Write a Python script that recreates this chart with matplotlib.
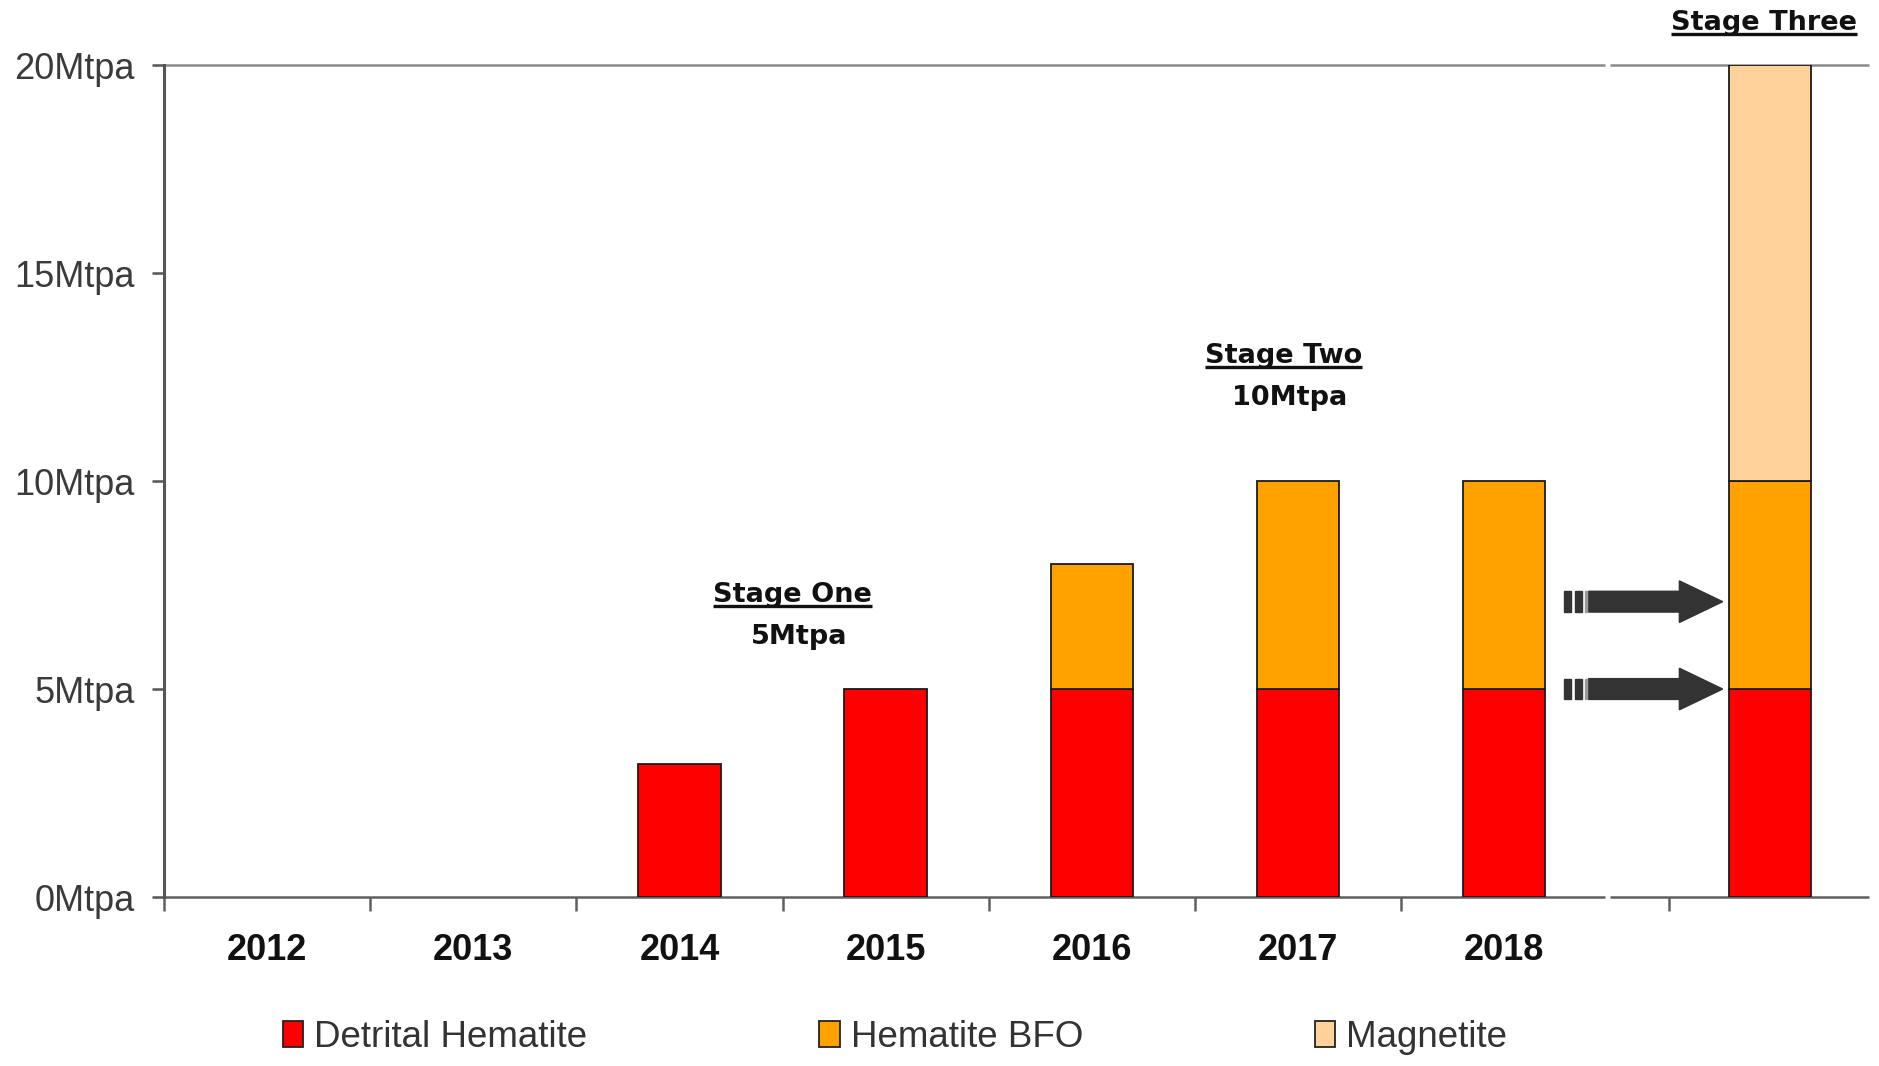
import matplotlib
matplotlib.use("Agg")
import matplotlib.pyplot as plt
import matplotlib.patches as mpatches
import numpy as np

# ---- data ----
categories = ['2012', '2013', '2014', '2015', '2016', '2017', '2018', '']
detrital = [0, 0, 3.2, 5, 5, 5, 5, 5]
bfo = [0, 0, 0, 0, 3, 5, 5, 5]
magnetite = [0, 0, 0, 0, 0, 0, 0, 10]
series_names = ['Detrital Hematite', 'Hematite BFO', 'Magnetite']
series_colors = ['#FF0000', '#FFA200', '#FFD29C']
ytick_vals = [0, 5, 10, 15, 20]
ytick_labels = ['0Mtpa', '5Mtpa', '10Mtpa', '15Mtpa', '20Mtpa']

# ---- layout ----
x_pos = [0, 1, 2, 3, 4, 5, 6, 7.29]
bar_w = 0.4
fig = plt.figure(figsize=(18.79, 10.66), dpi=100)
ax = fig.add_axes([0.0873, 0.1585, 0.9074, 0.7805])
ax.set_xlim(-0.5, 7.77)
ax.set_ylim(0, 20)

edge = '#1a1a1a'
bottoms = np.zeros(len(categories))
for vals, name, col in zip([detrital, bfo, magnetite], series_names, series_colors):
    vals = np.array(vals, dtype=float)
    m = vals > 0
    ax.bar(np.array(x_pos)[m], vals[m], bar_w, bottom=bottoms[m], color=col,
           edgecolor=edge, linewidth=1.3, zorder=3)
    bottoms += vals

# spines
for s in ['right', 'bottom', 'top']:
    ax.spines[s].set_visible(False)
ax.spines['left'].set_color('#555555')
ax.spines['left'].set_linewidth(2.2)
brk = 6.5
for yv, c in [(0, '#606060'), (20, '#8a8a8a')]:
    ax.plot([-0.5, brk - 0.012], [yv, yv], color=c, lw=1.8, clip_on=False, zorder=2,
            solid_capstyle='butt')
    ax.plot([brk + 0.012, 7.77], [yv, yv], color=c, lw=1.8, clip_on=False, zorder=2,
            solid_capstyle='butt')

# y ticks
ax.set_yticks(ytick_vals)
ax.set_yticklabels(ytick_labels, fontfamily='Liberation Sans', fontsize=26, color='#3a3a3a')
ax.tick_params(axis='y', length=9, width=1.8, color='#555555', pad=12)

# x ticks: labels at centers, tick marks at slot boundaries
ax.set_xticks(x_pos[:7])
ax.set_xticklabels(categories[:7], fontfamily='Liberation Sans', fontweight='bold',
                   fontsize=26, color='#111111')
ax.tick_params(axis='x', which='major', length=0, pad=26)
ax.set_xticks([-0.5, 0.5, 1.5, 2.5, 3.5, 4.5, 5.5, 6.8], minor=True)
ax.tick_params(axis='x', which='minor', length=10, width=1.8, color='#606060', direction='out')

# annotations
ann_font = dict(fontfamily='DejaVu Sans', fontweight='bold', fontsize=19.5, color='#111111',
                ha='center', va='center')
stage_titles = ['Stage One', 'Stage Two', 'Stage Three']
stage_caps = ['5Mtpa', '10Mtpa', None]
stage_xy = [(2.55, 7.25), (4.93, 13.0), (7.26, 21.0)]
fig.canvas.draw()
for t, c, (sx, sy) in zip(stage_titles, stage_caps, stage_xy):
    txt = ax.text(sx, sy, t, clip_on=False, **ann_font)
    fig.canvas.draw()
    bb = txt.get_window_extent()
    inv = ax.transData.inverted()
    (x0, y0), (x1, y1) = inv.transform([(bb.x0, bb.y0), (bb.x1, bb.y0)])
    ax.plot([x0, x1], [y0 + 0.06, y0 + 0.06], color='#111111', lw=2.4, clip_on=False,
            solid_capstyle='butt')
    if c:
        ax.text(sx + 0.03, sy - 1.0, c, **ann_font)

# block arrows
arrow_y = [7.1, 5.0]
for ay in arrow_y:
    ax.add_patch(mpatches.FancyArrow(6.41, ay, 0.65, 0, width=0.5, head_width=1.0,
                                     head_length=0.21, length_includes_head=True,
                                     color='#333333', zorder=4))
    ax.add_patch(mpatches.Rectangle((6.29, ay - 0.25), 0.035, 0.5, color='#333333', zorder=4))
    ax.add_patch(mpatches.Rectangle((6.345, ay - 0.25), 0.035, 0.5, color='#333333', zorder=4))
    ax.add_patch(mpatches.Rectangle((6.392, ay - 0.25), 0.012, 0.5, color='#9a9a9a', zorder=4))

# legend
handles = [mpatches.Patch(facecolor=c, edgecolor='#222222', linewidth=1.3) for c in series_colors]
leg = fig.legend(handles, series_names, loc='center left', bbox_to_anchor=(0.133, 0.027),
                 ncol=3, frameon=False, handlelength=0.55, handleheight=0.7,
                 handletextpad=0.3, columnspacing=6.3,
                 prop=dict(family='Liberation Sans', size=26.5))
for t in leg.get_texts():
    t.set_color('#333333')

fig.savefig('out.png', dpi=100)
